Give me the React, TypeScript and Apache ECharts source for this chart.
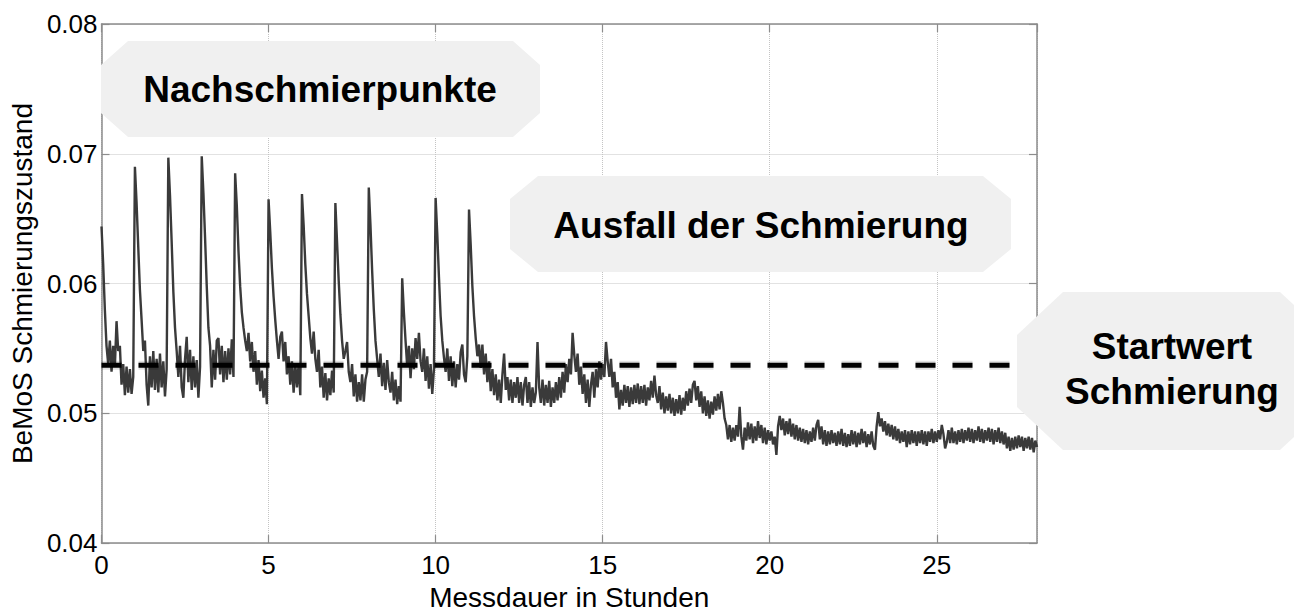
import React, { useEffect, useRef } from "react";
import * as echarts from "echarts";

// ---- axis setup ----
const X_MIN_H = 0;
const X_MAX_H = 28;
const X_TICK_STEP_H = 5;
const Y_MIN = 0.04;
const Y_MAX = 0.08;
const Y_TICK_STEP = 0.01;

// ---- texts ----
const xAxisTitle = "Messdauer in Stunden";
const yAxisTitle = "BeMoS Schmierungszustand";
const labelNachschmier = "Nachschmierpunkte";
const labelAusfall = "Ausfall der Schmierung";
const labelStartwert = "Startwert\nSchmierung";

const SAMPLE_STEP_H = 0.05;
const zustand: number[] = [
  // 0 h
  0.0644, 0.0615, 0.058, 0.0552, 0.0538, 0.0556, 0.0532, 0.0552, 0.0536, 0.0571, 0.0548, 0.0552, 0.0522, 0.0538, 0.0514, 0.0536, 0.0516, 0.0534, 0.0515, 0.0528,
  // 1 h
  0.069, 0.0662, 0.0628, 0.0595, 0.0572, 0.0548, 0.0556, 0.0522, 0.0506, 0.0544, 0.052, 0.0548, 0.0518, 0.0542, 0.0516, 0.0546, 0.052, 0.054, 0.0513, 0.0534,
  // 2 h
  0.0697, 0.0668, 0.0632, 0.0594, 0.0566, 0.0548, 0.0528, 0.0552, 0.052, 0.0512, 0.0542, 0.0559, 0.0524, 0.0549, 0.0518, 0.0544, 0.052, 0.0541, 0.0512, 0.0536,
  // 3 h
  0.0698, 0.067, 0.0635, 0.0598, 0.0566, 0.0552, 0.052, 0.0549, 0.0526, 0.0556, 0.0558, 0.053, 0.0552, 0.0524, 0.0548, 0.0526, 0.055, 0.053, 0.0557, 0.0528,
  // 4 h
  0.0685, 0.066, 0.0625, 0.0598, 0.0578, 0.0566, 0.0556, 0.0548, 0.0562, 0.054, 0.0555, 0.0532, 0.0548, 0.0522, 0.0541, 0.0517, 0.0533, 0.0512, 0.0527, 0.0507,
  // 5 h
  0.0665, 0.064, 0.0612, 0.059, 0.0572, 0.0556, 0.0542, 0.0559, 0.0563, 0.054, 0.0555, 0.053, 0.0544, 0.0522, 0.054, 0.0516, 0.0538, 0.052, 0.0538, 0.0514,
  // 6 h
  0.0669, 0.0645, 0.0615, 0.0592, 0.0575, 0.0558, 0.0546, 0.0563, 0.0542, 0.0532, 0.0549, 0.052, 0.0536, 0.0512, 0.0531, 0.051, 0.0527, 0.0514, 0.0533, 0.0516,
  // 7 h
  0.0662, 0.0632, 0.0602, 0.0576, 0.0556, 0.0542, 0.0548, 0.0555, 0.0532, 0.0524, 0.0538, 0.0513, 0.053, 0.0509, 0.0524, 0.051, 0.053, 0.0509, 0.0526, 0.0532,
  // 8 h
  0.0674, 0.0645, 0.061, 0.058, 0.0556, 0.0542, 0.0528, 0.0546, 0.0521, 0.0539, 0.0518, 0.0541, 0.0524, 0.0516, 0.0532, 0.051, 0.0526, 0.0507, 0.0521, 0.0509,
  // 9 h
  0.0604, 0.0578, 0.0556, 0.0536, 0.0552, 0.0527, 0.055, 0.0534, 0.0558, 0.0542, 0.0562, 0.054, 0.0532, 0.055, 0.0525, 0.0544, 0.0519, 0.0538, 0.0515, 0.0534,
  // 10 h
  0.0666, 0.0638, 0.0605, 0.0575, 0.0556, 0.0543, 0.0532, 0.055, 0.0525, 0.0544, 0.0521, 0.054, 0.052, 0.0538, 0.0526, 0.0547, 0.0553, 0.053, 0.0524, 0.0544,
  // 11 h
  0.0657, 0.063, 0.0598, 0.0575, 0.0558, 0.0544, 0.0553, 0.0535, 0.0553, 0.053, 0.0546, 0.0524, 0.054, 0.0517, 0.0534, 0.0514, 0.053, 0.051, 0.0526, 0.0508,
  // 12 h
  0.053, 0.0546, 0.0518, 0.0528, 0.051, 0.0526, 0.0508, 0.0524, 0.0512, 0.0528, 0.0508, 0.0524, 0.0506, 0.0522, 0.0528, 0.0508, 0.0524, 0.0505, 0.052, 0.0508,
  // 13 h
  0.0516, 0.0555, 0.052, 0.0508, 0.0526, 0.0506, 0.0522, 0.0508, 0.0525, 0.0505, 0.052, 0.0508, 0.0524, 0.051, 0.0528, 0.0512, 0.0532, 0.0516, 0.0538, 0.0524,
  // 14 h
  0.0542, 0.053, 0.0562, 0.0545, 0.0532, 0.0546, 0.0522, 0.0536, 0.0515, 0.053, 0.0508, 0.0526, 0.0505, 0.0522, 0.0532, 0.0512, 0.0534, 0.052, 0.054, 0.0526,
  // 15 h
  0.0538, 0.0528, 0.0555, 0.054, 0.0528, 0.0542, 0.052, 0.0532, 0.0512, 0.0524, 0.0503, 0.0518, 0.0506, 0.0522, 0.0508, 0.0521, 0.0505, 0.052, 0.0507, 0.0522,
  // 16 h
  0.0508, 0.0523, 0.0507, 0.0521, 0.0508, 0.0522, 0.0506, 0.052, 0.051, 0.0525, 0.0512, 0.0529, 0.0514, 0.0508, 0.0521, 0.0503, 0.0516, 0.05, 0.0513, 0.0502,
  // 17 h
  0.0515, 0.05, 0.0512, 0.0498, 0.0511, 0.05, 0.0514, 0.0499, 0.0512, 0.0502, 0.0517, 0.0506, 0.0519, 0.0508, 0.0522, 0.0525, 0.051, 0.0521, 0.0505, 0.0517,
  // 18 h
  0.05, 0.0513, 0.0498, 0.051, 0.0496, 0.0509, 0.0499, 0.0513, 0.0502, 0.0515, 0.0503, 0.0517, 0.0508, 0.0496, 0.0491, 0.048, 0.0491, 0.0478, 0.0489, 0.0479,
  // 19 h
  0.0491, 0.0482, 0.0505, 0.0482, 0.0472, 0.0489, 0.0479, 0.0493, 0.048, 0.0492, 0.0477, 0.049, 0.0479, 0.0494, 0.0481, 0.0491, 0.0477, 0.0489, 0.0476, 0.0487,
  // 20 h
  0.0479, 0.0486, 0.0476, 0.0482, 0.0468, 0.049, 0.0498, 0.0487, 0.0496, 0.0483, 0.0494, 0.0484, 0.0496, 0.0482, 0.0492, 0.048, 0.0491, 0.0479, 0.0489, 0.0478,
  // 21 h
  0.0488, 0.0477, 0.0487, 0.0476, 0.0486, 0.0478, 0.0489, 0.0479, 0.0491, 0.0495, 0.048, 0.049, 0.0476, 0.0487, 0.0475, 0.0486, 0.0476, 0.0487, 0.0477, 0.0485,
  // 22 h
  0.0475, 0.0486, 0.0476, 0.0488, 0.0475, 0.0485, 0.0474, 0.0484, 0.0475, 0.0487, 0.0476, 0.0486, 0.0474, 0.0485, 0.0476, 0.0488, 0.0477, 0.0486, 0.0474, 0.0484,
  // 23 h
  0.0476, 0.0486, 0.0475, 0.0472, 0.049, 0.0501, 0.049, 0.0496, 0.0486, 0.0494, 0.0483, 0.0492, 0.0482, 0.0491, 0.048, 0.049, 0.0479, 0.0488, 0.0477, 0.0486,
  // 24 h
  0.0478, 0.0487, 0.0474, 0.0486, 0.0476, 0.0487, 0.0477, 0.0486, 0.0475, 0.0486, 0.0477, 0.0487, 0.0476, 0.0486, 0.0475, 0.0486, 0.0478, 0.0488, 0.0477, 0.0486,
  // 25 h
  0.0478, 0.0487, 0.048, 0.0491, 0.0484, 0.0473, 0.0478, 0.0487, 0.0477, 0.0489, 0.0477, 0.0486, 0.0476, 0.0487, 0.0478, 0.0488, 0.0477, 0.0487, 0.0479, 0.0489,
  // 26 h
  0.0478, 0.0488, 0.0477, 0.0487, 0.0479, 0.049, 0.0478, 0.0488, 0.0477, 0.0487, 0.0479, 0.0489, 0.0478, 0.0488, 0.0476, 0.0487, 0.0478, 0.0489, 0.0477, 0.0486,
  // 27 h
  0.0476, 0.0485, 0.0473, 0.0482, 0.0471, 0.0481, 0.0472, 0.0482, 0.0473, 0.0483, 0.0474, 0.0482, 0.0471, 0.0481, 0.0473, 0.0482, 0.0472, 0.0481, 0.047, 0.0479,
  // 28 h
  0.0474,
];

// ---- reference line (start value of lubrication) ----
const startwert = 0.0537;
const startwertFromH = 0;
const startwertToH = 27.55;

// ---- layout (pixels) ----
const W = 1294;
const H = 616;
const FONT = '"Liberation Sans", Arial, Helvetica, sans-serif';
const AXIS_GREY = "#8c8c8c";

function octagon(x0: number, y0: number, x1: number, y1: number, cx: number, cy: number) {
  return [
    [x0 + cx, y0], [x1 - cx, y0], [x1, y0 + cy], [x1, y1 - cy],
    [x1 - cx, y1], [x0 + cx, y1], [x0, y1 - cy], [x0, y0 + cy],
  ];
}

const boxes = [
  { text: labelNachschmier, rect: [101, 41, 540, 137], chamfer: [27, 24], tx: 320, ty: 89 },
  { text: labelAusfall, rect: [510, 176, 1011, 272], chamfer: [28, 23], tx: 761, ty: 225 },
  { text: labelStartwert, rect: [1017, 292, 1326, 450], chamfer: [46, 43], tx: 1172, ty: 369 },
];

export default function App() {
  const ref = useRef<HTMLDivElement>(null);
  useEffect(() => {
    if (!ref.current) return;
    const chart = echarts.init(ref.current, undefined, { renderer: "svg", width: W, height: H });
    const lineData = zustand.map((v, i) => [i * SAMPLE_STEP_H, v]);
    const startData = [
      [startwertFromH, startwert],
      [startwertToH, startwert],
    ];
    const graphics: any[] = [];
    boxes.forEach((b) => {
      graphics.push({
        type: "polygon",
        z: 100,
        shape: { points: octagon(b.rect[0], b.rect[1], b.rect[2], b.rect[3], b.chamfer[0], b.chamfer[1]) },
        style: { fill: "#f0f0f0" },
      });
      graphics.push({
        type: "text",
        z: 101,
        x: b.tx,
        y: b.ty,
        style: {
          text: b.text,
          fill: "#000",
          fontSize: 37,
          fontWeight: "bold",
          fontFamily: FONT,
          align: "center",
          verticalAlign: "middle",
          lineHeight: 45,
        },
      });
    });

    const axisCommon = {
      type: "value" as const,
      axisLine: { show: true, onZero: false, lineStyle: { color: AXIS_GREY, width: 1.5 } },
      axisTick: { show: true, inside: true, length: 8, lineStyle: { color: AXIS_GREY, width: 1.2 } },
    };

    chart.setOption({
      animation: false,
      backgroundColor: "#ffffff",
      grid: { left: 101, top: 24, width: 936, height: 534, containLabel: false },
      xAxis: [
        {
          ...axisCommon,
          position: "bottom",
          min: X_MIN_H,
          max: X_MAX_H,
          interval: X_TICK_STEP_H,
          axisLabel: { fontSize: 26, fontFamily: FONT, color: "#000", margin: 9, showMaxLabel: false },
          splitLine: { show: true, lineStyle: { color: "#c4c4c4", type: "dotted", width: 1 } },
          name: xAxisTitle,
          nameLocation: "middle",
          nameGap: 29,
          nameTextStyle: { fontSize: 28, fontFamily: FONT, color: "#000" },
        },
        {
          ...axisCommon,
          position: "top",
          min: X_MIN_H,
          max: X_MAX_H,
          interval: X_TICK_STEP_H,
          axisLabel: { show: false },
          splitLine: { show: false },
        },
      ],
      yAxis: [
        {
          ...axisCommon,
          position: "left",
          min: Y_MIN,
          max: Y_MAX,
          interval: Y_TICK_STEP,
          axisLabel: {
            fontSize: 26,
            fontFamily: FONT,
            color: "#000",
            margin: 4,
            formatter: (v: number) => v.toFixed(2),
          },
          splitLine: { show: true, lineStyle: { color: "#c4c4c4", type: "dotted", width: 1 } },
          name: yAxisTitle,
          nameLocation: "middle",
          nameGap: 64,
          nameTextStyle: { fontSize: 28, fontFamily: FONT, color: "#000" },
        },
        {
          ...axisCommon,
          position: "right",
          min: Y_MIN,
          max: Y_MAX,
          interval: Y_TICK_STEP,
          axisLabel: { show: false },
          splitLine: { show: false },
        },
      ],
      series: [
        {
          type: "line",
          name: "BeMoS",
          data: lineData,
          showSymbol: false,
          symbol: "none",
          xAxisIndex: 0,
          yAxisIndex: 0,
          z: 3,
          lineStyle: { color: "#3a3a3a", width: 2.4 },
        },
        {
          type: "line",
          name: "Startwert-Schatten",
          data: startData,
          showSymbol: false,
          symbol: "none",
          silent: true,
          z: 4,
          lineStyle: { color: "rgba(0,0,0,0.12)", width: 9, type: [20, 17] },
        },
        {
          type: "line",
          name: "Startwert",
          data: startData,
          showSymbol: false,
          symbol: "none",
          z: 5,
          lineStyle: { color: "#000", width: 5, type: [20, 17] },
        },
      ],
      graphic: graphics,
    });
    return () => chart.dispose();
  }, []);
  return (
    <div
      ref={ref}
      style={{ position: "absolute", left: 0, top: 0, width: W, height: H, background: "#fff" }}
    />
  );
}
